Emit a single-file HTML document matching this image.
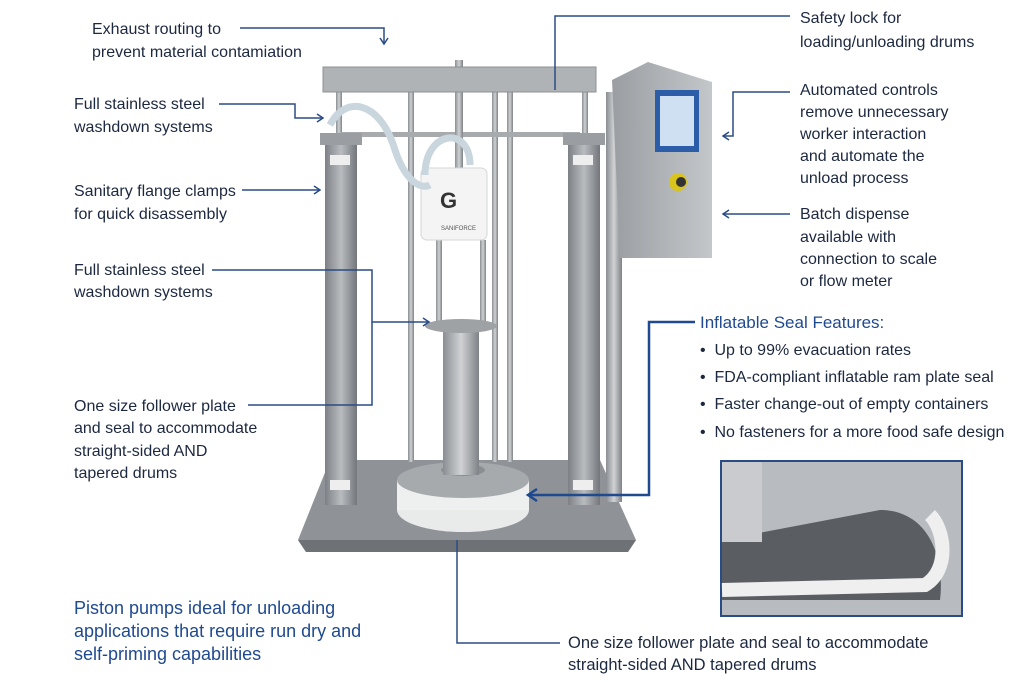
<!DOCTYPE html>
<html><head><meta charset="utf-8"><style>
html,body{margin:0;padding:0;background:#fff;}
svg{display:block;}
text{font-family:"Liberation Sans",sans-serif;fill:#1c2840;font-size:16px;}
.b{fill:#1f4a8f;}
</style></head><body>
<svg width="1024" height="682" viewBox="0 0 1024 682" xmlns="http://www.w3.org/2000/svg">
<defs>
<linearGradient id="col" x1="0" x2="1"><stop offset="0" stop-color="#7d8186"/><stop offset=".5" stop-color="#b9bcbf"/><stop offset="1" stop-color="#73777c"/></linearGradient>
<linearGradient id="rod" x1="0" x2="1"><stop offset="0" stop-color="#8a8e92"/><stop offset=".5" stop-color="#d0d2d4"/><stop offset="1" stop-color="#7e8286"/></linearGradient>
<linearGradient id="cab" x1="0" x2="1"><stop offset="0" stop-color="#9a9ea2"/><stop offset="1" stop-color="#c4c7ca"/></linearGradient>
<marker id="ar" markerWidth="10" markerHeight="10" refX="8" refY="5" orient="auto" markerUnits="userSpaceOnUse"><path d="M2,1 L8,5 L2,9" fill="none" stroke="#2a4c86" stroke-width="1.5"/></marker>
<marker id="ar2" markerWidth="14" markerHeight="14" refX="11" refY="7" orient="auto" markerUnits="userSpaceOnUse"><path d="M2,1 L11,7 L2,13" fill="none" stroke="#1f4a8f" stroke-width="2.5"/></marker>
</defs>
<path d="M330,460 L600,460 L636,540 L628,552 L306,552 L298,540 Z" fill="#8f9397"/>
<path d="M298,540 L636,540 L628,552 L306,552 Z" fill="#6e7276"/>
<ellipse cx="463" cy="510" rx="66" ry="22" fill="#e9eaea"/>
<rect x="397" y="480" width="132" height="30" fill="#eeefef"/>
<ellipse cx="463" cy="480" rx="66" ry="18" fill="#a7aaad"/>
<ellipse cx="463" cy="470" rx="22" ry="6" fill="#8a8e92"/>
<rect x="408" y="92" width="6" height="370" fill="url(#rod)"/>
<rect x="492" y="92" width="6" height="370" fill="url(#rod)"/>
<rect x="507" y="92" width="6" height="370" fill="url(#rod)"/>
<rect x="336" y="92" width="6" height="45" fill="url(#rod)"/>
<rect x="582" y="92" width="6" height="45" fill="url(#rod)"/>
<rect x="340" y="132" width="240" height="5" fill="#a8abae"/>
<rect x="455" y="60" width="8" height="110" fill="url(#rod)"/>
<rect x="443" y="330" width="36" height="145" fill="url(#rod)"/>
<rect x="436" y="240" width="6" height="90" fill="url(#rod)"/>
<rect x="480" y="240" width="6" height="90" fill="url(#rod)"/>
<ellipse cx="461" cy="326" rx="36" ry="7" fill="#9ea2a5"/>
<rect x="421" y="168" width="66" height="72" rx="6" fill="#f4f4f4" stroke="#d4d6d8"/>
<text x="440" y="208" style="font-size:22px;font-weight:bold;fill:#333">G</text>
<text x="441" y="230" style="font-size:6px;fill:#555">SANIFORCE</text>
<path d="M330,125 C345,95 380,100 395,150 C405,180 420,190 430,185" fill="none" stroke="#c9d6de" stroke-width="7"/>
<path d="M425,175 C425,130 470,125 470,165" fill="none" stroke="#c9d6de" stroke-width="7"/>
<rect x="323" y="67" width="273" height="25" fill="#b0b3b6" stroke="#8c9094"/>
<rect x="325" y="133" width="32" height="372" fill="url(#col)"/>
<rect x="320" y="133" width="42" height="12" fill="#9a9ea2"/>
<rect x="568" y="133" width="32" height="372" fill="url(#col)"/>
<rect x="563" y="133" width="42" height="12" fill="#9a9ea2"/>
<rect x="330" y="155" width="20" height="10" fill="#eee"/>
<rect x="330" y="480" width="20" height="10" fill="#eee"/>
<rect x="573" y="155" width="20" height="10" fill="#eee"/>
<rect x="573" y="480" width="20" height="10" fill="#eee"/>
<rect x="606" y="92" width="16" height="410" fill="url(#rod)"/>
<path d="M612,80 L648,62 L712,82 L712,258 L620,258 Z" fill="url(#cab)"/>
<rect x="655" y="90" width="44" height="62" fill="#2b5da8"/>
<rect x="660" y="96" width="34" height="50" fill="#cfe0f2"/>
<circle cx="678" cy="182" r="9" fill="#d8c41c"/>
<circle cx="681" cy="182" r="5" fill="#333"/>
<rect x="721" y="461" width="241" height="155" fill="#b8bcc0" stroke="#2a4c86" stroke-width="2"/>
<path d="M722,540 L880,510 C930,510 945,560 940,600 L722,600 Z" fill="#5a5e63"/>
<path d="M722,590 L925,585 C950,570 945,530 930,515" fill="none" stroke="#efefef" stroke-width="14"/>
<rect x="722" y="462" width="40" height="80" fill="#c9cbce"/>
<g fill="none" stroke="#2a4c86" stroke-width="1.5">
<path d="M240,28 L384,28 L384,44" marker-end="url(#ar)"/>
<path d="M219,104 L295,104 L295,118 L323,118" marker-end="url(#ar)"/>
<path d="M242,190 L320,190" marker-end="url(#ar)"/>
<path d="M212,270 L372,270 L372,322 L429,322" marker-end="url(#ar)"/>
<path d="M248,405 L372,405 L372,322"/>
<path d="M790,16 L555,16 L555,90"/>
<path d="M790,92 L733,92 L733,136 L723,136" marker-end="url(#ar)"/>
<path d="M790,214 L723,214" marker-end="url(#ar)"/>
<path d="M457,540 L457,643 L560,643"/>
</g>
<path d="M695,322 L649,322 L649,495 L528,495" fill="none" stroke="#1f4a8f" stroke-width="2.5" marker-end="url(#ar2)"/>
<text x="92" y="34">Exhaust routing to</text>
<text x="92" y="57">prevent material contamiation</text>
<text x="74" y="109">Full stainless steel</text>
<text x="74" y="132">washdown systems</text>
<text x="74" y="196">Sanitary flange clamps</text>
<text x="74" y="219">for quick disassembly</text>
<text x="74" y="275">Full stainless steel</text>
<text x="74" y="297">washdown systems</text>
<text x="74" y="411">One size follower plate</text>
<text x="74" y="433">and seal to accommodate</text>
<text x="74" y="456">straight-sided AND</text>
<text x="74" y="478">tapered drums</text>
<text x="74" y="614" class="b" style="font-size:18px">Piston pumps ideal for unloading</text>
<text x="74" y="637" class="b" style="font-size:18px">applications that require run dry and</text>
<text x="74" y="660" class="b" style="font-size:18px">self-priming capabilities</text>
<text x="800" y="23">Safety lock for</text>
<text x="800" y="47">loading/unloading drums</text>
<text x="800" y="95">Automated controls</text>
<text x="800" y="117">remove unnecessary</text>
<text x="800" y="139">worker interaction</text>
<text x="800" y="161">and automate the</text>
<text x="800" y="183">unload process</text>
<text x="800" y="219">Batch dispense</text>
<text x="800" y="242">available with</text>
<text x="800" y="264">connection to scale</text>
<text x="800" y="286">or flow meter</text>
<text x="700" y="328" class="b" style="font-size:17px">Inflatable Seal Features:</text>
<text x="700" y="355">•&#160; Up to 99% evacuation rates</text>
<text x="700" y="382">•&#160; FDA-compliant inflatable ram plate seal</text>
<text x="700" y="409">•&#160; Faster change-out of empty containers</text>
<text x="700" y="437">•&#160; No fasteners for a more food safe design</text>
<text x="568" y="648" style="font-size:16.5px">One size follower plate and seal to accommodate</text>
<text x="568" y="670" style="font-size:16.5px">straight-sided AND tapered drums</text>
</svg>
</body></html>
